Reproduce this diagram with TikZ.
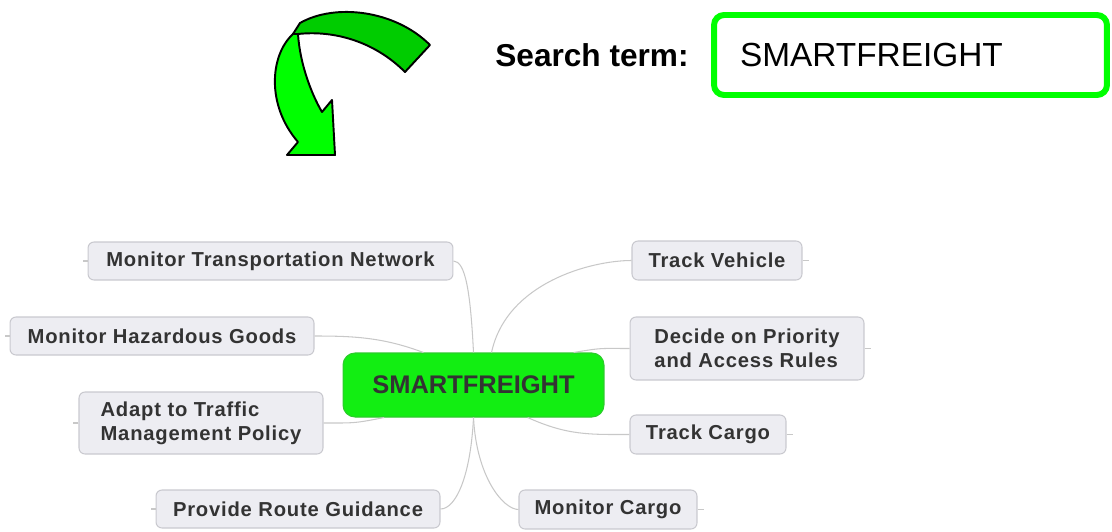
\documentclass[tikz,border=0pt]{standalone}
\usepackage{fontspec}
\setmainfont{Liberation Sans}
\newfontfamily\boxfont[LetterSpace=4]{Liberation Sans}
\usepackage{tikz}
\usetikzlibrary{shapes,arrows}
\usetikzlibrary{positioning}
\usepackage{xcolor}
\definecolor{boxfill}{HTML}{EDEDF2}
\definecolor{boxline}{HTML}{C9C9CF}
\definecolor{boxtext}{HTML}{333333}
\definecolor{hubgreen}{HTML}{12EE12}
\definecolor{hubline}{HTML}{2CCB2C}
\definecolor{brightgreen}{HTML}{00FF00}
\definecolor{darkgreen}{HTML}{00CC00}
\definecolor{linkgray}{HTML}{C8C8C8}

\begin{document}
\begin{tikzpicture}[x=0.02cm,y=-0.02cm,
box/.style={rectangle,draw=boxline,fill=boxfill,line width=0.6pt,rounded corners=0.12cm,text=boxtext,
  font=\boxfont\fontsize{11.5}{13.6}\selectfont\bfseries,inner sep=0pt,align=left},
hub/.style={rectangle,draw=hubline,fill=hubgreen,line width=0.6pt,rounded corners=0.24cm,text=boxtext,
  font=\fontsize{14.5}{17}\selectfont\bfseries,minimum width=5.22cm,minimum height=1.28cm,inner sep=0pt},
link/.style={draw=linkgray,line width=0.6pt},
ribbon/.style={draw=black,line width=1.1pt,line join=round}]

\useasboundingbox (0,0) rectangle (1112,531);

% curved arrow
\filldraw[ribbon,fill=darkgreen] (293,34) -- (300,23) .. controls (335,3) and (395,10) .. (430,45)
  -- (405,72) .. controls (375,42) and (335,30) .. (298,34) -- cycle;
\filldraw[ribbon,fill=brightgreen] (293,34) .. controls (270,55) and (266,105) .. (298,142)
  -- (287,155) -- (335,155) -- (332,100) -- (322,112) .. controls (312,95) and (300,65) .. (298,34) -- cycle;

% search field
\node[font=\fontsize{18}{21}\selectfont\bfseries] (lbl) at (592,55) {Search term:};
\node[rectangle,draw=brightgreen,line width=3.4pt,rounded corners=0.2cm,minimum height=1.6cm,
  inner xsep=0.52cm,text width=6.82cm,align=left,font=\fontsize{19}{22}\selectfont] (search) at (910.5,55) {SMARTFREIGHT};

% mind map
\node [hub] (hub) at (473.5,385) {SMARTFREIGHT};

\node [box, minimum width=7.3cm, minimum height=0.76cm] (mtn) at (270.5,261) {Monitor Transportation Network};
\node [box, minimum width=6.08cm, minimum height=0.76cm] (mhg) at (162,336) {Monitor Hazardous Goods};
\node [box, minimum width=4.88cm, minimum height=1.24cm] (adp) at (201,423) {Adapt to Traffic\\Management Policy};
\node [box, minimum width=5.68cm, minimum height=0.76cm] (prg) at (298,509) {Provide Route Guidance};

\node [box, minimum width=3.4cm, minimum height=0.78cm] (tv) at (717,260.5) {Track Vehicle};
\node [box, minimum width=4.68cm, minimum height=1.26cm] (dec) at (747,348.5) {Decide on Priority\\and Access Rules};
\node [box, minimum width=3.12cm, minimum height=0.78cm] (tc) at (708,434.5) {Track Cargo};
\node [box, minimum width=3.56cm, minimum height=0.78cm] (mc) at (608,509.5) {Monitor Cargo};

\path [link] (hub.north) .. controls +(-3,-60) and +(12,0) .. (mtn.east);
\path [link] (hub.147) .. controls +(-40,-15) and +(40,0) .. (mhg.east);
\path [link] (hub.200) .. controls +(-30,6) and +(30,0) .. (adp.east);
\path [link] (hub.south) .. controls +(-3,60) and +(15,0) .. (prg.east);

\path [link] (hub.61) .. controls +(15,-70) and +(-40,0) .. (tv.west);
\path [link] (hub.18) .. controls +(30,-5) and +(-30,0) .. (dec.west);
\path [link] (hub.329) .. controls +(40,18) and +(-40,0) .. (tc.west);
\path [link] (hub.south) .. controls +(3,60) and +(-15,0) .. (mc.west);

\path [link] (mtn.west) -- +(-5,0);
\path [link] (mhg.west) -- +(-5,0);
\path [link] (adp.west) -- +(-5,0);
\path [link] (prg.west) -- +(-5,0);
\path [link] (tv.east) -- +(6,0);
\path [link] (dec.east) -- +(6,0);
\path [link] (tc.east) -- +(6,0);
\path [link] (mc.east) -- +(6,0);
\end{tikzpicture}
\end{document}
